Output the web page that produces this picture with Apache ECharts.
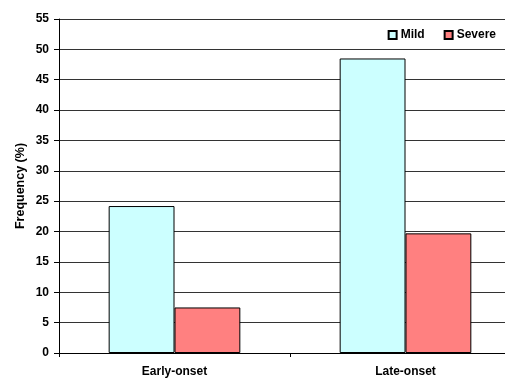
<!DOCTYPE html>
<html><head><meta charset="utf-8">
<script src="https://cdn.jsdelivr.net/npm/echarts@6/dist/echarts.min.js"></script>
<style>html,body{margin:0;padding:0;background:#fff;overflow:hidden;width:505px;height:379px}#c{width:521px;height:379px}</style>
</head><body><div id="c"></div>
<script>
const categories = ['Early-onset', 'Late-onset'];
const mildValues = [24.2, 48.5];
const severeValues = [7.5, 19.7];
const seriesNames = ['Mild', 'Severe'];
const yTicks = [0, 5, 10, 15, 20, 25, 30, 35, 40, 45, 50, 55];

const chart = echarts.init(document.getElementById('c'), null, {renderer: 'canvas'});
const font = 'Liberation Sans, Arial, sans-serif';
chart.setOption({
  animation: false,
  grid: {left: 59, right: 0, top: 19, bottom: 26},
  legend: {
    data: seriesNames, right: 20, top: 24, itemWidth: 8, itemHeight: 8, itemGap: 19,
    icon: 'rect',
    textStyle: {fontFamily: font, fontWeight: 'bold', fontSize: 12, color: '#000', padding: [0,0,0,-1]}
  },
  xAxis: {
    type: 'category', data: categories,
    axisLine: {lineStyle: {color: '#000', width: 1}},
    axisTick: {show: true, length: 4, inside: false, lineStyle: {color: '#000'}},
    axisLabel: {fontFamily: font, fontWeight: 'bold', fontSize: 12, color: '#000', margin: 13}
  },
  yAxis: {
    type: 'value', min: 0, max: 55, interval: 5,
    name: 'Frequency (%)', nameLocation: 'middle', nameGap: 32, nameRotate: 90,
    nameMoveOverlap: false,
    nameTextStyle: {fontFamily: font, fontWeight: 'bold', fontSize: 12.5, color: '#000'},
    axisLine: {show: true, lineStyle: {color: '#000', width: 1}},
    axisTick: {show: true, length: 5, lineStyle: {color: '#000'}},
    axisLabel: {fontFamily: font, fontWeight: 'bold', fontSize: 12, color: '#000', margin: 10,
      formatter: v => yTicks.includes(v) ? String(v) : ''},
    splitLine: {show: true, lineStyle: {color: '#333', width: 1}}
  },
  series: [
    {name: seriesNames[0], type: 'bar', data: mildValues, barGap: '0%', barCategoryGap: '43%',
     itemStyle: {color: '#ccffff', borderColor: '#000', borderWidth: 1}},
    {name: seriesNames[1], type: 'bar', data: severeValues,
     itemStyle: {color: '#ff8080', borderColor: '#000', borderWidth: 1}}
  ]
});
</script></body></html>
